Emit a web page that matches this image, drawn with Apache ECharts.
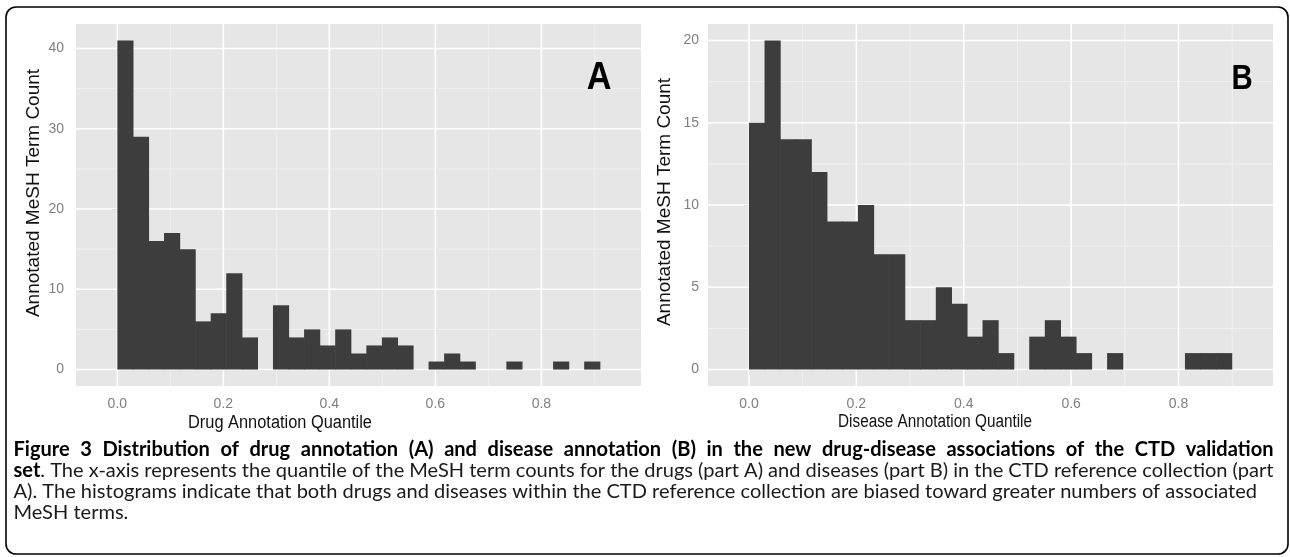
<!DOCTYPE html>
<html><head><meta charset="utf-8">
<script src="https://cdn.jsdelivr.net/npm/echarts@6/dist/echarts.min.js"></script>
<style>html,body{margin:0;padding:0;background:#fff}#c{width:1290px;height:557px}</style>
</head><body><div id="c"></div>
<script>
// ---------- data ----------
const drugCounts = [41,29,16,17,15,6,7,12,4,0,8,4,5,3,5,2,3,4,3,0,1,2,1,0,0,1,0,0,1,0,1];
const diseaseCounts = [15,20,14,14,12,9,9,10,7,7,3,3,5,4,2,3,1,0,2,3,2,1,0,1,0,0,0,0,1,1,1];
const drugBinWidth = 0.02936;
const diseaseBinWidth = 0.0290;
const xTickValues = [0, 0.2, 0.4, 0.6, 0.8];
const xMinorValues = [0.1, 0.3, 0.5, 0.7, 0.9];
const drugYTicks = [0, 10, 20, 30, 40];
const drugYMinor = [5, 15, 25, 35];
const diseaseYTicks = [0, 5, 10, 15, 20];
const diseaseYMinor = [2.5, 7.5, 12.5, 17.5];
const yTitle = 'Annotated MeSH Term Count';
const drugXTitle = 'Drug Annotation Quantile';
const diseaseXTitle = 'Disease Annotation Quantile';
const panelLetters = ['A', 'B'];
const captionLines = [
  {segs: [{text: 'Figure 3 Distribution of drug annotation (A) and disease annotation (B) in the new drug-disease associations of the CTD validation', bold: true}], justify: true},
  {segs: [{text: 'set', bold: true}, {text: '. The x-axis represents the quantile of the MeSH term counts for the drugs (part A) and diseases (part B) in the CTD reference collection (part', bold: false}], justify: true},
  {segs: [{text: 'A). The histograms indicate that both drugs and diseases within the CTD reference collection are biased toward greater numbers of associated', bold: false}], justify: false},
  {segs: [{text: 'MeSH terms.', bold: false}], justify: false}
];

// ---------- layout ----------
const FONT = 'Liberation Sans, Arial, sans-serif';
const CAP_FONT = 'Lato, sans-serif';
const axA = {x: [-0.078, 0.988], y: [-2.05, 43.05]};
const axB = {x: [-0.0763, 0.976], y: [-1, 21]};

function xAxisCfg(gi, range) {
  return {
    gridIndex: gi, type: 'value', min: range[0], max: range[1],
    axisLine: {show: false}, splitLine: {show: false},
    axisTick: {show: true, customValues: xTickValues, length: 5, lineStyle: {color: '#7f7f7f', width: 1}},
    axisLabel: {customValues: xTickValues, formatter: v => v.toFixed(1), color: '#7f7f7f', fontSize: 14, margin: 11, fontFamily: FONT}
  };
}
function yAxisCfg(gi, range, ticks, margin) {
  return {
    gridIndex: gi, type: 'value', min: range[0], max: range[1],
    axisLine: {show: false}, splitLine: {show: false},
    axisTick: {show: true, customValues: ticks, length: 5, lineStyle: {color: '#7f7f7f', width: 1}},
    axisLabel: {customValues: ticks, color: '#7f7f7f', fontSize: 14, margin: margin, fontFamily: FONT}
  };
}
function gridLines(gi, values, vertical, major, ax) {
  return {
    type: 'custom', xAxisIndex: gi, yAxisIndex: gi, z: 1, silent: true, animation: false,
    data: values.map(v => vertical ? [v, 0] : [0, v]),
    renderItem: (params, api) => {
      let p0, p1;
      if (vertical) { const v = api.value(0); p0 = api.coord([v, ax.y[0]]); p1 = api.coord([v, ax.y[1]]); }
      else { const v = api.value(1); p0 = api.coord([ax.x[0], v]); p1 = api.coord([ax.x[1], v]); }
      return {type: 'line', shape: {x1: p0[0], y1: p0[1], x2: p1[0], y2: p1[1]},
        style: {stroke: major ? '#ffffff' : '#f2f2f2', lineWidth: major ? 1.6 : 0.9}};
    }
  };
}
function bars(gi, counts, bw) {
  return {
    type: 'custom', xAxisIndex: gi, yAxisIndex: gi, z: 3, silent: true, animation: false,
    data: counts.map((c, i) => [i * bw, (i + 1) * bw, c]),
    encode: {x: [0, 1], y: 2},
    renderItem: (params, api) => {
      const c = api.value(2);
      if (!c) return {type: 'group', children: []};
      const p0 = api.coord([api.value(0), 0]);
      const p1 = api.coord([api.value(1), c]);
      return {type: 'rect', shape: {x: p0[0], y: p1[1], width: p1[0] - p0[0] + 0.6, height: p0[1] - p1[1]},
        style: {fill: '#3d3d3d'}};
    }
  };
}

// ---------- caption layout (justified) ----------
const mctx = document.createElement('canvas').getContext('2d');
function mw(text, bold, size) { mctx.font = (bold ? 'bold ' : '') + size + 'px ' + CAP_FONT; return mctx.measureText(text).width; }
function toWords(segs) {
  const words = []; let cur = [];
  segs.forEach(s => {
    s.text.split(' ').forEach((p, i) => {
      if (i > 0) { if (cur.length) words.push(cur); cur = []; }
      if (p) cur.push({text: p, bold: s.bold});
    });
  });
  if (cur.length) words.push(cur);
  return words;
}
const capLeft = 13.5, capRight = 1273.5, capNaturalRight = 1258;
const line3 = captionLines[2].segs.map(s => s.text).join('');
const capSize = 100 * (capNaturalRight - capLeft) / mw(line3, false, 100);
const capY = [450, 471, 492, 513];
const captionEls = [];
captionLines.forEach((ln, li) => {
  const words = toWords(ln.segs);
  const ww = words.map(w => w.reduce((a, s) => a + mw(s.text, s.bold, capSize), 0));
  const total = ww.reduce((a, b) => a + b, 0);
  const gap = (ln.justify && words.length > 1) ? (capRight - capLeft - total) / (words.length - 1) : mw(' ', false, capSize);
  let x = capLeft;
  words.forEach((w, wi) => {
    let sx = x;
    w.forEach(s => {
      captionEls.push({type: 'text', x: sx, y: capY[li], silent: true,
        style: {text: s.text, fontFamily: CAP_FONT, fontSize: capSize, fontWeight: s.bold ? 'bold' : 'normal',
          fill: s.bold ? '#000' : '#1a1a1a', textAlign: 'left', textVerticalAlign: 'middle', align: 'left', verticalAlign: 'middle'}});
      sx += mw(s.text, s.bold, capSize);
    });
    x += ww[wi] + gap;
  });
});

function txt(x, y, text, size, opts) {
  opts = opts || {};
  return {type: 'text', x: x, y: y, rotation: opts.rotation || 0, scaleX: opts.scaleX || 1, scaleY: opts.scaleY || 1, silent: true, z: 10,
    style: {text: text, fontFamily: FONT, fontSize: size, fontWeight: opts.bold ? 'bold' : 'normal', fill: opts.fill || '#111',
      textAlign: 'center', textVerticalAlign: 'middle', align: 'center', verticalAlign: 'middle'}};
}

const chart = echarts.init(document.getElementById('c'), null, {renderer: 'canvas'});
chart.setOption({
  animation: false,
  backgroundColor: '#ffffff',
  textStyle: {fontFamily: FONT},
  grid: [
    {left: 76, top: 24, width: 565, height: 362, show: true, backgroundColor: '#e6e6e6', borderWidth: 0},
    {left: 708, top: 24, width: 565, height: 362, show: true, backgroundColor: '#e6e6e6', borderWidth: 0}
  ],
  xAxis: [xAxisCfg(0, axA.x), xAxisCfg(1, axB.x)],
  yAxis: [yAxisCfg(0, axA.y, drugYTicks, 12), yAxisCfg(1, axB.y, diseaseYTicks, 9)],
  series: [
    gridLines(0, xMinorValues, true, false, axA),
    gridLines(0, drugYMinor, false, false, axA),
    gridLines(0, xTickValues, true, true, axA),
    gridLines(0, drugYTicks, false, true, axA),
    gridLines(1, xMinorValues, true, false, axB),
    gridLines(1, diseaseYMinor, false, false, axB),
    gridLines(1, xTickValues, true, true, axB),
    gridLines(1, diseaseYTicks, false, true, axB),
    bars(0, drugCounts, drugBinWidth),
    bars(1, diseaseCounts, diseaseBinWidth)
  ],
  graphic: [
    {type: 'rect', shape: {x: 6, y: 7, width: 1282, height: 547, r: 10}, silent: true, z: 0,
      style: {fill: 'none', stroke: '#000', lineWidth: 1.6}},
    txt(34, 193, yTitle, 19, {rotation: Math.PI / 2}),
    txt(665, 202, yTitle, 19, {rotation: Math.PI / 2}),
    txt(280, 423, drugXTitle, 18, {scaleX: 0.91}),
    txt(935, 422, diseaseXTitle, 18, {scaleX: 0.85}),
    txt(599, 79, panelLetters[0], 38, {bold: true, scaleX: 0.9, fill: '#000'}),
    txt(1242, 79, panelLetters[1], 35, {bold: true, scaleX: 0.84, fill: '#000'})
  ].concat(captionEls)
});
</script>
</body></html>
